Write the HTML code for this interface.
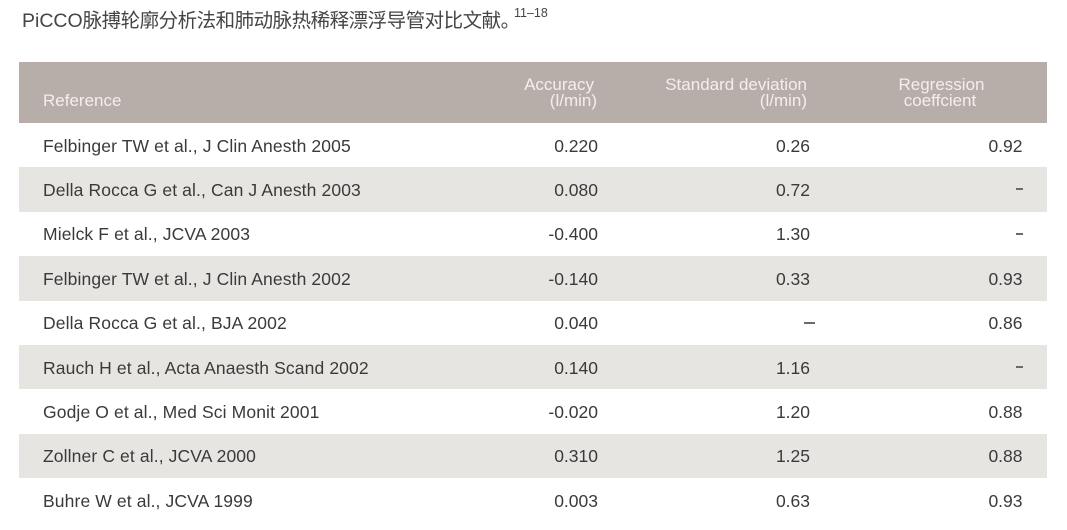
<!DOCTYPE html>
<html>
<head>
<meta charset="utf-8">
<style>
  html, body { margin:0; padding:0; }
  body { width:1067px; height:530px; background:#ffffff; position:relative; overflow:hidden;
         font-family:"Liberation Sans","Noto Sans CJK SC",sans-serif; color:#3a3a3a; }
  .title { position:absolute; left:22px; top:10.5px; font-size:19.5px; line-height:20px; color:#454545; white-space:nowrap; }
  .title .cjk { letter-spacing:-0.5px; }
  .sup { position:absolute; left:514px; top:7px; font-size:12.5px; line-height:12px; color:#454545; white-space:nowrap; }
  .hdr { position:absolute; left:19px; top:62px; width:1028px; height:61px; background:#b8aea9; }
  .h { position:absolute; font-size:17px; line-height:16px; color:#f3efec; white-space:nowrap; }
  .row { position:absolute; left:19px; width:1028px; height:44.4px; }
  .g { background:#e7e5e2; }
  .cell { position:absolute; top:0.5px; font-size:17.5px; line-height:44.4px; white-space:nowrap; }
  .ref { left:24px; letter-spacing:0.12px; }
  .c1 { right:449px; text-align:right; }
  .c2 { right:237px; text-align:right; }
  .c3 { right:24.5px; text-align:right; }
  .dash { position:absolute; height:2px; background:#6a6a6a; }
</style>
</head>
<body>
<div class="title">PiCCO<span class="cjk">脉搏轮廓分析法和肺动脉热稀释漂浮导管对比文献。</span></div>
<div class="sup">11–18</div>

<div class="hdr"></div>
<div class="h" style="left:43px; top:92.8px;">Reference</div>
<div class="h" style="right:473px; top:76.8px; text-align:right;">Accuracy</div>
<div class="h" style="right:470px; top:92.8px; text-align:right;">(l/min)</div>
<div class="h" style="right:260px; top:76.8px; text-align:right;">Standard deviation</div>
<div class="h" style="right:260px; top:92.8px; text-align:right;">(l/min)</div>
<div class="h" style="left:881.5px; width:120px; top:76.8px; text-align:center;">Regression</div>
<div class="h" style="left:880px; width:120px; top:92.8px; text-align:center;">coeffcient</div>

<div class="row" style="top:123px;">
  <div class="cell ref">Felbinger TW et al., J Clin Anesth 2005</div>
  <div class="cell c1">0.220</div><div class="cell c2">0.26</div><div class="cell c3">0.92</div>
</div>
<div class="row g" style="top:167.4px;">
  <div class="cell ref">Della Rocca G et al., Can J Anesth 2003</div>
  <div class="cell c1">0.080</div><div class="cell c2">0.72</div>
  <div class="dash" style="left:996.5px; width:7.5px; top:21px;"></div>
</div>
<div class="row" style="top:211.8px;">
  <div class="cell ref">Mielck F et al., JCVA 2003</div>
  <div class="cell c1">-0.400</div><div class="cell c2">1.30</div>
  <div class="dash" style="left:996.5px; width:7.5px; top:21px;"></div>
</div>
<div class="row g" style="top:256.2px;">
  <div class="cell ref">Felbinger TW et al., J Clin Anesth 2002</div>
  <div class="cell c1">-0.140</div><div class="cell c2">0.33</div><div class="cell c3">0.93</div>
</div>
<div class="row" style="top:300.6px;">
  <div class="cell ref">Della Rocca G et al., BJA 2002</div>
  <div class="cell c1">0.040</div>
  <div class="dash" style="left:785px; width:11px; top:21.5px;"></div>
  <div class="cell c3">0.86</div>
</div>
<div class="row g" style="top:345px;">
  <div class="cell ref">Rauch H et al., Acta Anaesth Scand 2002</div>
  <div class="cell c1">0.140</div><div class="cell c2">1.16</div>
  <div class="dash" style="left:996.5px; width:7.5px; top:21px;"></div>
</div>
<div class="row" style="top:389.4px;">
  <div class="cell ref">Godje O et al., Med Sci Monit 2001</div>
  <div class="cell c1">-0.020</div><div class="cell c2">1.20</div><div class="cell c3">0.88</div>
</div>
<div class="row g" style="top:433.8px;">
  <div class="cell ref">Zollner C et al., JCVA 2000</div>
  <div class="cell c1">0.310</div><div class="cell c2">1.25</div><div class="cell c3">0.88</div>
</div>
<div class="row" style="top:478.2px;">
  <div class="cell ref">Buhre W et al., JCVA 1999</div>
  <div class="cell c1">0.003</div><div class="cell c2">0.63</div><div class="cell c3">0.93</div>
</div>
</body>
</html>
